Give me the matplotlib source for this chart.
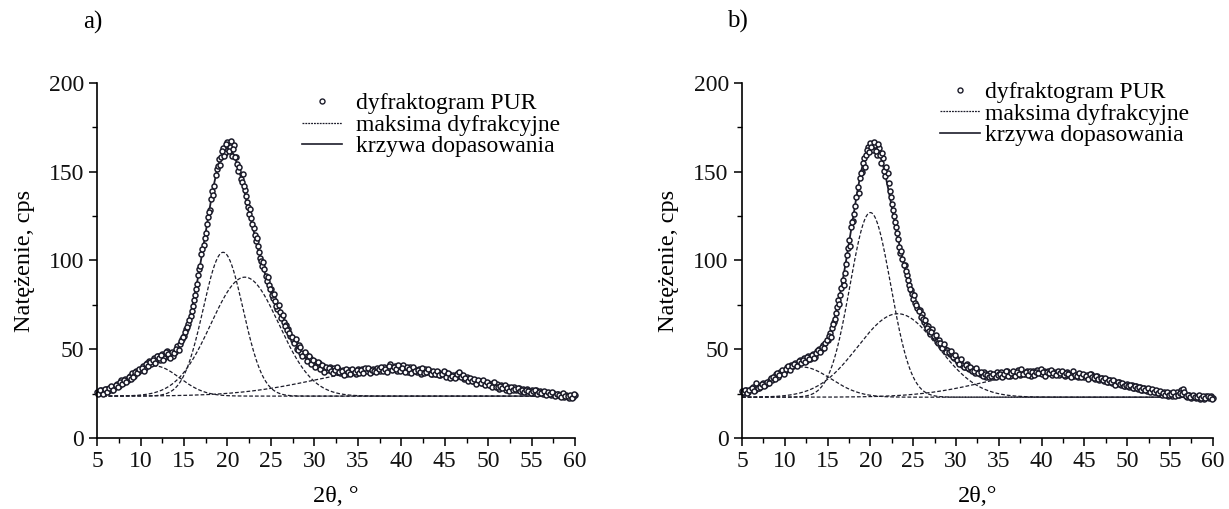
import numpy as np
import matplotlib.pyplot as plt
from matplotlib.lines import Line2D
from matplotlib.ticker import MultipleLocator

plt.rcParams['font.family'] = ['Liberation Serif', 'DejaVu Serif']

# 2theta sampling of the measured pattern: main grid and the in-between points
theta = np.arange(5, 60.001, 0.25)
theta_mid = np.arange(5.125, 60, 0.25)

# measured intensity, panel a (one row = one degree)
obs_a = [
    26.1, 25.4, 27.0, 26.2,
    27.8, 26.5, 28.4, 27.3,
    28.1, 30.2, 29.4, 32.6,
    30.8, 33.5, 32.9, 35.1,
    36.8, 35.2, 37.9, 37.0,
    38.3, 40.6, 39.5, 42.3,
    43.5, 41.8, 45.2, 43.7,
    46.0, 44.2, 47.1, 45.3,
    48.9, 45.8, 47.6, 46.4,
    48.7, 51.8, 53.0, 55.6,
    57.4, 61.2, 64.0, 68.9,
    74.2, 80.5, 86.6, 95.3,
    103.5, 108.9, 115.2, 124.6,
    128.7, 139.3, 142.1, 151.6,
    156.9, 158.2, 163.5, 160.8,
    166.8, 164.2, 159.0, 164.9,
    158.3, 150.6, 146.0, 148.7,
    139.5, 133.2, 126.4, 124.1,
    118.5, 110.8, 108.3, 101.2,
    96.7, 95.1, 88.4, 86.0,
    84.1, 78.9, 77.2, 72.5,
    70.9, 68.3, 65.4, 63.8,
    61.3, 57.6, 55.2, 54.1,
    50.2, 52.6, 47.8, 46.9,
    47.3, 44.6, 45.1, 42.8,
    43.5, 41.0, 42.2, 39.4,
    40.8, 39.1, 38.3, 40.2,
    38.0, 39.6, 37.2, 38.8,
    36.4, 38.5, 37.0, 35.9,
    38.2, 36.6, 37.8, 36.3,
    38.6, 37.1, 39.0, 37.5,
    37.9, 38.8, 37.2, 39.1,
    38.0, 39.5, 37.6, 38.7,
    40.2, 38.1, 39.4, 41.8,
    38.6, 40.5, 37.9, 39.3,
    38.2, 40.9, 39.1, 37.4,
    39.8, 37.6, 38.9, 37.1,
    38.7, 36.2, 37.9, 38.9,
    36.9, 37.8, 35.8, 37.2,
    36.0, 37.4, 35.3, 36.6,
    37.0, 35.2, 35.9, 34.6,
    35.5, 34.1, 36.4, 35.8,
    34.9, 33.2, 34.4, 32.6,
    33.5, 31.9, 32.8, 31.4,
    32.3, 30.8, 31.6, 30.2,
    31.2, 29.6, 30.7, 29.1,
    30.4, 27.6, 29.8, 28.7,
    27.2, 29.0, 28.3, 27.5,
    28.6, 27.0, 27.9, 26.6,
    27.4, 26.3, 27.8, 26.0,
    26.8, 25.5, 27.2, 25.1,
    26.5, 24.8, 25.9, 25.0,
    25.6, 24.3, 25.4, 24.0,
    25.0, 23.4, 24.6, 22.9,
    24.2, 22.6, 23.8, 23.1,
    24.0,
]

obs_a_mid = [
    25.0, 26.9, 24.8, 27.4,
    26.0, 27.9, 29.3, 26.8,
    29.8, 28.6, 31.3, 30.5,
    32.6, 31.7, 34.5, 33.4,
    34.6, 37.3, 36.4, 38.9,
    39.7, 37.9, 41.5, 40.3,
    42.6, 44.1, 42.4, 46.0,
    44.9, 46.6, 43.8, 48.4,
    47.3, 44.9, 48.5, 47.8,
    50.2, 49.4, 54.6, 57.1,
    59.6, 62.5, 66.7, 71.8,
    77.9, 84.1, 91.8, 97.0,
    106.2, 112.7, 120.3, 127.5,
    134.9, 136.8, 148.0, 153.2,
    153.6, 161.9, 158.7, 165.4,
    161.5, 167.3, 162.6, 158.1,
    154.2, 152.9, 144.1, 141.8,
    136.4, 130.0, 128.9, 120.8,
    114.3, 112.6, 104.9, 99.5,
    98.9, 91.2, 90.6, 83.7,
    80.6, 81.2, 74.3, 74.9,
    67.4, 69.5, 63.1, 61.0,
    59.1, 56.8, 53.4, 55.7,
    49.5, 51.3, 46.3, 48.6,
    43.4, 46.4, 41.9, 43.9,
    40.1, 42.8, 38.9, 41.4,
    37.4, 40.0, 39.4, 37.6,
    36.7, 38.3, 39.8, 37.3,
    37.9, 35.6, 38.8, 37.4,
    35.8, 39.0, 36.9, 38.5,
    36.6, 38.2, 36.8, 39.6,
    39.4, 36.8, 38.4, 37.6,
    37.0, 38.9, 40.1, 37.9,
    39.0, 37.2, 40.6, 38.3,
    39.8, 38.7, 41.2, 37.7,
    39.5, 37.3, 40.2, 38.6,
    36.6, 40.1, 37.9, 38.4,
    37.3, 39.4, 36.7, 37.0,
    38.6, 36.3, 37.5, 36.0,
    37.8, 35.7, 36.1, 37.5,
    34.3, 36.5, 33.8, 35.1,
    33.6, 35.9, 37.2, 34.3,
    35.7, 33.9, 32.1, 33.7,
    32.2, 33.4, 30.6, 32.5,
    31.0, 32.5, 29.7, 31.3,
    30.1, 28.8, 31.4, 28.5,
    28.9, 29.3, 27.9, 30.0,
    28.0, 26.4, 28.9, 26.8,
    27.6, 28.3, 26.2, 27.3,
    25.9, 27.0, 26.7, 25.3,
    26.2, 26.8, 24.6, 26.1,
    25.6, 26.2, 24.4, 25.8,
    24.9, 25.8, 23.6, 24.7,
    24.1, 23.0, 25.2, 23.7,
    23.5, 24.4, 22.3, 24.6,
]

# measured intensity, panel b
obs_b = [
    26.4, 25.1, 27.3, 26.0,
    27.5, 28.9, 26.8, 29.6,
    27.9, 29.4, 30.8, 29.6,
    31.2, 32.9, 32.4, 34.6,
    35.8, 34.3, 36.9, 37.7,
    37.6, 39.9, 39.0, 41.2,
    40.3, 42.4, 41.6, 43.7,
    42.8, 44.9, 43.5, 46.3,
    44.6, 47.2, 45.8, 48.9,
    50.1, 49.3, 52.6, 53.4,
    55.2, 58.9, 62.1, 65.4,
    70.3, 77.6, 80.4, 88.9,
    93.1, 103.2, 111.8, 119.0,
    122.1, 130.8, 141.5, 146.2,
    149.8, 157.5, 159.6, 163.9,
    166.2, 162.4, 165.1, 159.3,
    163.5, 154.7, 157.8, 147.6,
    149.5, 139.2, 131.7, 125.3,
    118.6, 112.0, 104.1, 100.7,
    97.3, 91.8, 86.2, 83.5,
    78.4, 76.0, 73.1, 72.0,
    69.8, 65.2, 63.4, 62.9,
    58.4, 61.3, 56.2, 54.8,
    55.1, 52.2, 51.9, 50.4,
    49.6, 47.5, 46.9, 45.3,
    45.2, 42.6, 43.5, 41.1,
    40.2, 41.6, 39.0, 38.6,
    38.9, 36.8, 37.6, 35.9,
    35.4, 36.9, 34.2, 35.8,
    36.6, 34.5, 35.9, 37.0,
    35.8, 37.4, 34.9, 36.5,
    37.6, 35.1, 36.8, 35.6,
    36.2, 38.1, 35.4, 37.3,
    35.9, 37.8, 36.4, 34.9,
    37.9, 36.0, 38.2, 36.7,
    35.8, 37.6, 36.3, 38.0,
    36.5, 35.3, 37.4, 36.1,
    35.6, 37.3, 36.0, 34.8,
    37.1, 35.4, 36.3, 34.9,
    35.7, 34.4, 36.2, 35.0,
    34.1, 35.6, 34.5, 36.0,
    34.8, 33.2, 34.9, 32.9,
    33.8, 32.1, 33.0, 31.6,
    32.5, 30.8, 31.9, 30.5,
    31.4, 29.8, 30.6, 29.3,
    30.2, 28.7, 29.6, 28.4,
    29.1, 27.5, 28.6, 27.2,
    27.9, 26.6, 27.5, 26.2,
    26.9, 25.7, 26.6, 25.4,
    24.4, 26.0, 24.9, 23.8,
    25.3, 23.7, 24.6, 25.8,
    24.1, 26.9, 27.8, 24.0,
    23.2, 24.5, 22.6, 23.8,
    22.4, 23.6, 22.1, 23.3,
    22.0, 23.4, 22.3, 23.9,
    22.8,
]

obs_b_mid = [
    25.8, 26.9, 25.5, 27.1,
    28.0, 26.3, 30.8, 28.4,
    28.7, 30.6, 29.1, 31.5,
    30.9, 33.8, 34.1, 33.3,
    36.4, 35.5, 38.3, 36.2,
    38.8, 40.5, 38.4, 40.6,
    41.5, 40.8, 43.1, 42.5,
    43.9, 42.9, 45.4, 44.7,
    46.5, 45.1, 47.7, 49.6,
    48.2, 51.4, 50.8, 55.0,
    57.6, 56.8, 64.3, 67.2,
    73.8, 75.5, 84.6, 86.3,
    97.8, 106.9, 108.1, 121.4,
    126.3, 135.9, 138.2, 149.5,
    154.8, 152.6, 162.3, 161.2,
    164.1, 167.0, 161.8, 165.7,
    159.4, 160.6, 150.2, 152.8,
    143.7, 135.6, 128.2, 121.9,
    115.4, 107.5, 105.3, 97.6,
    93.9, 88.8, 84.1, 80.9,
    80.3, 74.8, 71.5, 68.4,
    67.1, 66.4, 61.7, 60.2,
    59.8, 57.5, 57.9, 53.6,
    53.5, 50.8, 53.2, 48.6,
    48.3, 48.8, 45.6, 46.7,
    43.9, 41.8, 44.4, 39.9,
    41.0, 39.4, 40.1, 37.5,
    37.9, 39.2, 36.4, 37.0,
    34.7, 36.1, 35.3, 34.4,
    35.2, 36.2, 34.1, 35.7,
    36.3, 34.4, 36.1, 37.8,
    34.8, 36.4, 37.7, 35.2,
    37.0, 35.9, 38.6, 36.1,
    37.4, 35.6, 38.0, 36.9,
    35.4, 37.3, 36.6, 38.7,
    37.4, 35.0, 37.2, 36.6,
    38.1, 36.4, 35.7, 37.8,
    36.5, 38.0, 35.4, 36.8,
    36.0, 34.6, 37.5, 35.7,
    34.8, 36.6, 34.1, 36.3,
    35.0, 33.5, 36.1, 34.4,
    33.7, 35.2, 33.4, 34.0,
    32.6, 33.9, 31.5, 32.8,
    31.3, 32.4, 30.1, 31.6,
    30.5, 31.0, 29.4, 30.1,
    29.2, 30.1, 28.2, 29.4,
    28.1, 28.9, 26.9, 28.3,
    27.0, 28.0, 26.1, 27.4,
    25.8, 27.2, 25.1, 26.4,
    25.3, 24.5, 25.9, 24.2,
    24.8, 25.9, 23.9, 24.5,
    25.3, 24.7, 25.8, 23.4,
    24.0, 22.9, 24.3, 23.1,
    23.0, 24.1, 22.7, 23.5,
    22.6, 23.7, 22.9, 22.2,
]

# fitted diffraction maxima: baseline, centre, height above baseline, FWHM
base_a = 23.6
centers_a = [11.6, 19.5, 22.0, 39.0]
heights_a = [17, 81, 67, 15]
fwhm_a = [6.8, 5.4, 9.2, 21.0]

base_b = 23.0
centers_b = [12.0, 20.0, 23.2, 41.0]
heights_b = [17, 104, 47, 14]
fwhm_b = [8.0, 5.6, 11.0, 18.0]

labels = ['dyfraktogram PUR', 'maksima dyfrakcyjne', 'krzywa dopasowania']
INK = '#1c1c2a'


def gauss(x, c, h, w):
    return h * np.exp(-4 * np.log(2) * ((x - c) / w) ** 2)


def draw_panel(ax, obs, obs_mid, base, centers, heights, widths, xlabel,
               legend_at, text_pad):
    xs = np.linspace(5, 60, 551)
    total = np.full_like(xs, base)
    for c, h, w in zip(centers, heights, widths):
        peak = gauss(xs, c, h, w)
        total += peak
        ax.plot(xs, base + peak, color=INK, lw=0.9, dashes=(3, 1.6))
    ax.plot(xs, total, color=INK, lw=1.3)
    xs_obs = np.concatenate([theta, theta_mid])
    ys_obs = np.concatenate([obs, obs_mid])
    ax.plot(xs_obs, ys_obs, ls='none', marker='o', ms=3.6, mfc='white',
            mec=INK, mew=1.1, clip_on=False)

    ax.set_xlim(5, 60)
    ax.set_ylim(0, 200)
    ax.xaxis.set_major_locator(MultipleLocator(5))
    ax.xaxis.set_minor_locator(MultipleLocator(2.5))
    ax.yaxis.set_major_locator(MultipleLocator(50))
    ax.yaxis.set_minor_locator(MultipleLocator(25))
    for side in ['top', 'right']:
        ax.spines[side].set_visible(False)
    for side in ['left', 'bottom']:
        ax.spines[side].set_linewidth(1.2)
    ax.tick_params(which='major', direction='out', length=6, width=1.2,
                   labelsize=17, colors='#111111')
    ax.tick_params(which='minor', direction='out', length=3.5, width=1.0)
    ax.set_ylabel('Natężenie, cps', fontsize=17.5, labelpad=10)
    ax.set_xlabel(xlabel, fontsize=17.5, labelpad=10)

    handles = [
        Line2D([], [], ls='none', marker='o', ms=3.6, mfc='white', mec=INK, mew=1.0),
        Line2D([], [], color=INK, lw=0.9, dashes=(1.5, 0.8)),
        Line2D([], [], color=INK, lw=1.2),
    ]
    ax.legend(handles, labels, loc='upper left', bbox_to_anchor=legend_at,
              frameon=False, fontsize=17, handlelength=1.7,
              handletextpad=text_pad, labelspacing=0.0,
              borderaxespad=0, borderpad=0)


fig = plt.figure(figsize=(12.29, 5.09), dpi=100)
ax_a = fig.add_axes([0.079, 0.1395, 0.389, 0.6975])
ax_b = fig.add_axes([0.6037, 0.1395, 0.3832, 0.6975])

draw_panel(ax_a, obs_a, obs_a_mid, base_a, centers_a, heights_a, fwhm_a,
           '2θ, °', (0.429, 0.972), 0.6)
draw_panel(ax_b, obs_b, obs_b_mid, base_b, centers_b, heights_b, fwhm_b,
           '2θ,°', (0.42, 1.004), 0.22)

fig.text(0.0757, 0.955, 'a)', fontsize=18, ha='center', va='center')
fig.text(0.600, 0.957, 'b)', fontsize=18, ha='center', va='center')

fig.savefig('out.png', dpi=100)
